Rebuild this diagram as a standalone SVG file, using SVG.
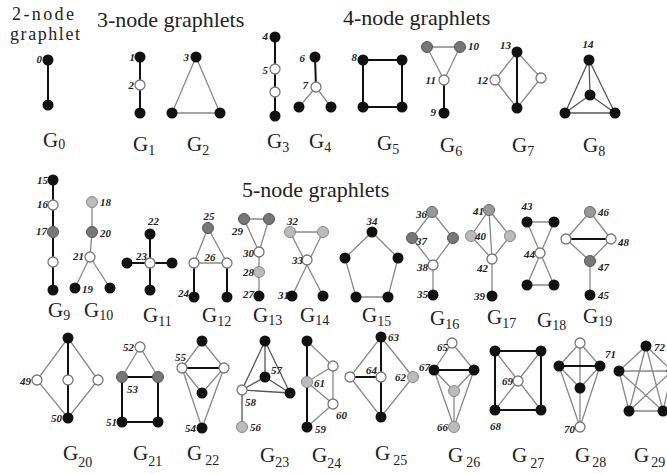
<svg xmlns="http://www.w3.org/2000/svg" width="667" height="474" viewBox="0 0 667 474">
<style>
.b{fill:#111}
.w{fill:#fff;stroke:#777;stroke-width:1.3}
.dg{fill:#777;stroke:#555;stroke-width:1}
.mg{fill:#999;stroke:#666;stroke-width:1}
.lg{fill:#bbb;stroke:#888;stroke-width:1}
.k{stroke:#111;stroke-width:2;fill:none}
.t{stroke:#888;stroke-width:1.3;fill:none}
.d{stroke:#555;stroke-width:1.3;fill:none}
.title{font-family:"Liberation Serif","Times New Roman",serif;font-size:22px;fill:#222}
.gl{font-family:"Liberation Serif","Times New Roman",serif;font-size:21px;fill:#222}
.sub{font-size:14px}
.n{font-family:"Liberation Serif","Times New Roman",serif;font-size:11px;font-style:italic;font-weight:bold;fill:#222}
.e{text-anchor:end}
.m{text-anchor:middle}
</style>
<rect width="667" height="474" fill="#fff"/>
<g id="titles">
<text class="title" x="12" y="20" style="font-size:18px" textLength="62">2-node</text>
<text class="title" x="10" y="40" style="font-size:18px" textLength="70">graphlet</text>
<text class="title" x="97" y="27">3-node graphlets</text>
<text class="title" x="343" y="25">4-node graphlets</text>
<text class="title" x="242" y="197">5-node graphlets</text>
</g>
<g id="connectors">
<line class="k" x1="48" y1="60" x2="48" y2="105"/>
<line class="k" x1="140" y1="57" x2="140" y2="113"/>
<path class="t" d="M196,57 L172,113 L220,113 Z"/>
<line class="k" x1="275" y1="37" x2="275" y2="116"/>
<line class="k" x1="315" y1="57" x2="316" y2="87"/>
<path class="t" d="M299,107 L316,87 L331,107"/>
<rect class="k" x="363" y="60" width="39" height="47"/>
<path class="t" d="M427,47 L460,47 L444,80 Z"/>
<line class="k" x1="444" y1="80" x2="444" y2="113"/>
<line class="k" x1="517" y1="52" x2="517" y2="108"/>
<path class="t" d="M517,52 L495,80 L517,108 L541,78 Z"/>
<path class="d" d="M589,60 L565,113 L615,113 Z M589,60 L590,95 M565,113 L590,95 L615,113"/>
<line class="k" x1="53" y1="180" x2="53" y2="290"/>
<path class="t" d="M92,202 L92,232 L90,257 M75,288 L90,257 L110,288"/>
<path class="k" d="M150,234 L150,290 M127,263 L172,263"/>
<path class="t" d="M208,228 L194,263 L227,263 Z"/>
<path class="k" d="M194,263 L194,297 M227,263 L227,297"/>
<path class="t" d="M244,219 L269,219 L259,252 Z M259,252 L259,272 L259,296"/>
<path class="t" d="M290,232 L323,232 M290,232 L323,296 M323,232 L292,296"/>
<path class="t" d="M372,232 L398,258 L388,297 L356,297 L345,258 Z"/>
<path class="t" d="M432,212 L453,238 L433,265 L412,238 Z M433,265 L433,295"/>
<path class="t" d="M489,210 L510,236 L492,259 L471,236 Z M489,210 L492,259 L492,296"/>
<path class="t" d="M527,222 L554,222 M527,285 L554,285 M527,222 L554,285 M554,222 L527,285"/>
<path class="t" d="M590,212 L611,239 L590,261 L566,239 Z M590,261 L590,295"/>
<line class="k" x1="566" y1="239" x2="611" y2="239"/>
<path class="t" d="M68,338 L98,380 L68,418 L37,380 Z"/>
<line class="k" x1="68" y1="338" x2="68" y2="418"/>
<path class="t" d="M122,377 L140,347 L158,377"/>
<rect class="k" x="122" y="377" width="36" height="45"/>
<path class="t" d="M202,341 L224,368 L202,393 L182,368 Z M182,368 L202,428 L224,368"/>
<line class="k" x1="182" y1="368" x2="224" y2="368"/>
<path class="d" d="M265,341 L290,393 L242,390 Z M265,341 L265,377 M242,390 L265,377 L290,393 M242,390 L242,427"/>
<line class="k" x1="307" y1="341" x2="307" y2="427"/>
<path class="t" d="M307,341 L333,366 L333,404 L307,427 M333,366 L307,382 L333,404"/>
<path class="t" d="M381,337 L413,377 L381,417 L350,377 Z"/>
<path class="k" d="M381,337 L381,417 M350,377 L381,377"/>
<path class="t" d="M434,370 L452,343 L474,370 M434,370 L454,391 L474,370 M454,391 L454,427 M434,370 L454,427 L474,370"/>
<line class="k" x1="434" y1="370" x2="474" y2="370"/>
<rect class="k" x="495" y="351" width="46" height="59"/>
<path class="t" d="M495,351 L541,410 M541,351 L495,410"/>
<path class="t" d="M559,366 L580,343 L600,366 M580,343 L580,388 L580,427 M559,366 L580,388 L600,366 M559,366 L580,427 L600,366"/>
<line class="k" x1="559" y1="366" x2="600" y2="366"/>
<path class="t" d="M646,346 L672,371 L663,411 L629,411 L619,371 Z M646,346 L629,411 M646,346 L663,411 M619,371 L672,371 M619,371 L663,411 M672,371 L629,411"/>
</g>
<g id="n0"><circle class="b" cx="48" cy="60" r="5.5"/><text class="n e" x="42" y="63">0</text></g>
<g id="n0b"><circle class="b" cx="48" cy="105" r="5.5"/></g>
<g id="n1"><circle class="b" cx="140" cy="57" r="5.5"/><text class="n e" x="135" y="61">1</text></g>
<g id="n2"><circle class="w" cx="140" cy="85" r="5"/><text class="n e" x="134" y="89">2</text></g>
<g id="n1c"><circle class="b" cx="140" cy="113" r="5.5"/></g>
<g id="n3"><circle class="b" cx="196" cy="57" r="5.5"/><text class="n e" x="189" y="61">3</text></g>
<g id="n3b"><circle class="b" cx="172" cy="113" r="5.5"/></g>
<g id="n3c"><circle class="b" cx="220" cy="113" r="5.5"/></g>
<g id="n4"><circle class="b" cx="275" cy="37" r="5.5"/><text class="n e" x="268" y="40">4</text></g>
<g id="n5"><circle class="w" cx="275" cy="69" r="5"/><text class="n e" x="268" y="74">5</text></g>
<g id="n5b"><circle class="w" cx="275" cy="92" r="5"/></g>
<g id="n4b"><circle class="b" cx="275" cy="116" r="5.5"/></g>
<g id="n6"><circle class="b" cx="315" cy="57" r="5.5"/><text class="n e" x="305" y="62">6</text></g>
<g id="n7"><circle class="w" cx="316" cy="87" r="5"/><text class="n e" x="308" y="89">7</text></g>
<g id="n6b"><circle class="b" cx="299" cy="107" r="5.5"/></g>
<g id="n6c"><circle class="b" cx="331" cy="107" r="5.5"/></g>
<g id="n8"><circle class="b" cx="363" cy="60" r="5.5"/><text class="n e" x="357" y="61">8</text></g>
<g id="n8b"><circle class="b" cx="402" cy="60" r="5.5"/></g>
<g id="n8c"><circle class="b" cx="402" cy="107" r="5.5"/></g>
<g id="n8d"><circle class="b" cx="363" cy="107" r="5.5"/></g>
<g id="n10"><circle class="dg" cx="460" cy="47" r="5.5"/><text class="n" x="468" y="50">10</text></g>
<g id="n10b"><circle class="dg" cx="427" cy="47" r="5.5"/></g>
<g id="n11"><circle class="w" cx="444" cy="80" r="5"/><text class="n e" x="436" y="84">11</text></g>
<g id="n9"><circle class="b" cx="444" cy="113" r="5.5"/><text class="n e" x="436" y="116">9</text></g>
<g id="n13"><circle class="b" cx="517" cy="52" r="5.5"/><text class="n e" x="511" y="49">13</text></g>
<g id="n12"><circle class="w" cx="495" cy="80" r="5"/><text class="n e" x="488" y="84">12</text></g>
<g id="n12b"><circle class="w" cx="541" cy="78" r="5"/></g>
<g id="n13b"><circle class="b" cx="517" cy="108" r="5.5"/></g>
<g id="n14"><circle class="b" cx="589" cy="60" r="5.5"/><text class="n m" x="588" y="48">14</text></g>
<g id="n14b"><circle class="b" cx="590" cy="95" r="5.5"/></g>
<g id="n14c"><circle class="b" cx="565" cy="113" r="5.5"/></g>
<g id="n14d"><circle class="b" cx="615" cy="113" r="5.5"/></g>
<g id="n15"><circle class="b" cx="53" cy="180" r="5.5"/><text class="n e" x="48" y="184">15</text></g>
<g id="n16"><circle class="w" cx="53" cy="205" r="5"/><text class="n e" x="48" y="208">16</text></g>
<g id="n17"><circle class="dg" cx="53" cy="232" r="5.5"/><text class="n e" x="47" y="235">17</text></g>
<g id="n16b"><circle class="w" cx="53" cy="262" r="5"/></g>
<g id="n15b"><circle class="b" cx="53" cy="290" r="5.5"/></g>
<g id="n18"><circle class="lg" cx="92" cy="202" r="5.5"/><text class="n" x="100" y="206">18</text></g>
<g id="n20"><circle class="dg" cx="92" cy="232" r="5.5"/><text class="n" x="100" y="237">20</text></g>
<g id="n21"><circle class="w" cx="90" cy="257" r="5"/><text class="n e" x="84" y="260">21</text></g>
<g id="n19"><circle class="b" cx="75" cy="288" r="5.5"/><text class="n" x="82" y="293">19</text></g>
<g id="n19b"><circle class="b" cx="110" cy="288" r="5.5"/></g>
<g id="n22"><circle class="b" cx="150" cy="234" r="5.5"/><text class="n" x="148" y="225">22</text></g>
<g id="n23"><circle class="w" cx="150" cy="263" r="5"/><text class="n" x="136" y="260">23</text></g>
<g id="n22b"><circle class="b" cx="150" cy="290" r="5.5"/></g>
<g id="n22c"><circle class="b" cx="127" cy="263" r="5.5"/></g>
<g id="n22d"><circle class="b" cx="172" cy="263" r="5.5"/></g>
<g id="n25"><circle class="dg" cx="208" cy="228" r="5.5"/><text class="n m" x="209" y="220">25</text></g>
<g id="n26"><circle class="w" cx="194" cy="263" r="5"/><text class="n m" x="210" y="261">26</text></g>
<g id="n26b"><circle class="w" cx="227" cy="263" r="5"/></g>
<g id="n24"><circle class="b" cx="194" cy="297" r="5.5"/><text class="n e" x="189" y="297">24</text></g>
<g id="n24b"><circle class="b" cx="227" cy="297" r="5.5"/></g>
<g id="n29"><circle class="dg" cx="244" cy="219" r="5.5"/><text class="n e" x="243" y="235">29</text></g>
<g id="n29b"><circle class="dg" cx="269" cy="219" r="5.5"/></g>
<g id="n30"><circle class="w" cx="259" cy="252" r="5"/><text class="n e" x="254" y="257">30</text></g>
<g id="n28"><circle class="lg" cx="259" cy="272" r="5.5"/><text class="n e" x="254" y="276">28</text></g>
<g id="n27"><circle class="b" cx="259" cy="296" r="5.5"/><text class="n e" x="254" y="298">27</text></g>
<g id="n32"><circle class="lg" cx="290" cy="232" r="5.5"/><text class="n" x="287" y="225">32</text></g>
<g id="n32b"><circle class="lg" cx="323" cy="232" r="5.5"/></g>
<g id="n33"><circle class="w" cx="307" cy="260" r="5"/><text class="n e" x="303" y="264">33</text></g>
<g id="n31"><circle class="b" cx="292" cy="296" r="5.5"/><text class="n e" x="289" y="299">31</text></g>
<g id="n31b"><circle class="b" cx="323" cy="296" r="5.5"/></g>
<g id="n34"><circle class="b" cx="372" cy="232" r="5.5"/><text class="n m" x="372" y="225">34</text></g>
<g id="n34b"><circle class="b" cx="398" cy="258" r="5.5"/></g>
<g id="n34c"><circle class="b" cx="388" cy="297" r="5.5"/></g>
<g id="n34d"><circle class="b" cx="356" cy="297" r="5.5"/></g>
<g id="n34e"><circle class="b" cx="345" cy="258" r="5.5"/></g>
<g id="n36"><circle class="mg" cx="432" cy="212" r="5.5"/><text class="n e" x="427" y="218">36</text></g>
<g id="n37"><circle class="dg" cx="412" cy="238" r="5.5"/><text class="n" x="416" y="245">37</text></g>
<g id="n37b"><circle class="dg" cx="453" cy="238" r="5.5"/></g>
<g id="n38"><circle class="w" cx="433" cy="265" r="5"/><text class="n e" x="428" y="271">38</text></g>
<g id="n35"><circle class="b" cx="433" cy="295" r="5.5"/><text class="n e" x="428" y="298">35</text></g>
<g id="n41"><circle class="mg" cx="489" cy="210" r="5.5"/><text class="n e" x="484" y="215">41</text></g>
<g id="n40"><circle class="lg" cx="471" cy="236" r="5.5"/><text class="n" x="475" y="240">40</text></g>
<g id="n40b"><circle class="lg" cx="510" cy="236" r="5.5"/></g>
<g id="n42"><circle class="w" cx="492" cy="259" r="5"/><text class="n e" x="488" y="272">42</text></g>
<g id="n39"><circle class="b" cx="492" cy="296" r="5.5"/><text class="n e" x="485" y="300">39</text></g>
<g id="n43"><circle class="b" cx="527" cy="222" r="5.5"/><text class="n m" x="527" y="210">43</text></g>
<g id="n43b"><circle class="b" cx="554" cy="222" r="5.5"/></g>
<g id="n44"><circle class="w" cx="540" cy="253" r="5"/><text class="n e" x="535" y="258">44</text></g>
<g id="n43c"><circle class="b" cx="527" cy="285" r="5.5"/></g>
<g id="n43d"><circle class="b" cx="554" cy="285" r="5.5"/></g>
<g id="n46"><circle class="mg" cx="590" cy="212" r="5.5"/><text class="n" x="598" y="216">46</text></g>
<g id="n48"><circle class="w" cx="611" cy="239" r="5"/><text class="n" x="618" y="246">48</text></g>
<g id="n48b"><circle class="w" cx="566" cy="239" r="5"/></g>
<g id="n47"><circle class="dg" cx="590" cy="261" r="5.5"/><text class="n" x="598" y="271">47</text></g>
<g id="n45"><circle class="b" cx="590" cy="295" r="5.5"/><text class="n" x="598" y="299">45</text></g>
<g id="n50t"><circle class="b" cx="68" cy="338" r="5.5"/></g>
<g id="n49"><circle class="w" cx="37" cy="380" r="5"/><text class="n e" x="31" y="385">49</text></g>
<g id="n49b"><circle class="w" cx="68" cy="380" r="5"/></g>
<g id="n49c"><circle class="w" cx="98" cy="380" r="5"/></g>
<g id="n50"><circle class="b" cx="68" cy="418" r="5.5"/><text class="n e" x="62" y="422">50</text></g>
<g id="n52"><circle class="w" cx="140" cy="347" r="5"/><text class="n e" x="134" y="351">52</text></g>
<g id="n53"><circle class="dg" cx="122" cy="377" r="5.5"/><text class="n" x="127" y="393">53</text></g>
<g id="n53b"><circle class="dg" cx="158" cy="377" r="5.5"/></g>
<g id="n51"><circle class="b" cx="122" cy="422" r="5.5"/><text class="n e" x="117" y="426">51</text></g>
<g id="n51b"><circle class="b" cx="158" cy="422" r="5.5"/></g>
<g id="n55t"><circle class="b" cx="202" cy="341" r="5.5"/></g>
<g id="n55"><circle class="w" cx="182" cy="368" r="5"/><text class="n" x="175" y="361">55</text></g>
<g id="n55b"><circle class="w" cx="224" cy="368" r="5"/></g>
<g id="n55m"><circle class="b" cx="202" cy="393" r="5.5"/></g>
<g id="n54"><circle class="b" cx="202" cy="428" r="5.5"/><text class="n e" x="196" y="432">54</text></g>
<g id="n57t"><circle class="b" cx="265" cy="341" r="5.5"/></g>
<g id="n57"><circle class="b" cx="265" cy="377" r="5.5"/><text class="n" x="271" y="374">57</text></g>
<g id="n58"><circle class="w" cx="242" cy="390" r="5"/><text class="n" x="245" y="406">58</text></g>
<g id="n57r"><circle class="b" cx="290" cy="393" r="5.5"/></g>
<g id="n56"><circle class="lg" cx="242" cy="427" r="5.5"/><text class="n" x="250" y="431">56</text></g>
<g id="n59t"><circle class="b" cx="307" cy="341" r="5.5"/></g>
<g id="n60t"><circle class="w" cx="333" cy="366" r="5"/></g>
<g id="n61"><circle class="lg" cx="307" cy="382" r="5.5"/><text class="n" x="314" y="387">61</text></g>
<g id="n60"><circle class="w" cx="333" cy="404" r="5"/><text class="n" x="336" y="419">60</text></g>
<g id="n59"><circle class="b" cx="307" cy="427" r="5.5"/><text class="n" x="315" y="433">59</text></g>
<g id="n63"><circle class="b" cx="381" cy="337" r="5.5"/><text class="n" x="388" y="341">63</text></g>
<g id="n64l"><circle class="w" cx="350" cy="377" r="5"/></g>
<g id="n64"><circle class="w" cx="381" cy="377" r="5"/><text class="n" x="366" y="374">64</text></g>
<g id="n62"><circle class="lg" cx="413" cy="377" r="5.5"/><text class="n e" x="406" y="381">62</text></g>
<g id="n63b"><circle class="b" cx="381" cy="417" r="5.5"/></g>
<g id="n65"><circle class="w" cx="452" cy="343" r="5"/><text class="n e" x="448" y="351">65</text></g>
<g id="n67"><circle class="b" cx="434" cy="370" r="5.5"/><text class="n e" x="430" y="371">67</text></g>
<g id="n67b"><circle class="b" cx="474" cy="370" r="5.5"/></g>
<g id="n66m"><circle class="lg" cx="454" cy="391" r="5.5"/></g>
<g id="n66"><circle class="lg" cx="454" cy="427" r="5.5"/><text class="n e" x="448" y="431">66</text></g>
<g id="n68a"><circle class="b" cx="495" cy="351" r="5.5"/></g>
<g id="n68b"><circle class="b" cx="541" cy="351" r="5.5"/></g>
<g id="n69"><circle class="w" cx="518" cy="381" r="5"/><text class="n e" x="513" y="385">69</text></g>
<g id="n68"><circle class="b" cx="495" cy="410" r="5.5"/><text class="n" x="490" y="430">68</text></g>
<g id="n68c"><circle class="b" cx="541" cy="410" r="5.5"/></g>
<g id="n70t"><circle class="w" cx="580" cy="343" r="5"/></g>
<g id="n71l"><circle class="b" cx="559" cy="366" r="5.5"/></g>
<g id="n71"><circle class="b" cx="600" cy="366" r="5.5"/><text class="n" x="605" y="358">71</text></g>
<g id="n71m"><circle class="b" cx="580" cy="388" r="5.5"/></g>
<g id="n70"><circle class="w" cx="580" cy="427" r="5"/><text class="n e" x="575" y="433">70</text></g>
<g id="n72"><circle class="b" cx="646" cy="346" r="5.5"/><text class="n" x="654" y="351">72</text></g>
<g id="n72b"><circle class="b" cx="619" cy="371" r="5.5"/></g>
<g id="n72c"><circle class="b" cx="672" cy="371" r="5.5"/></g>
<g id="n72d"><circle class="b" cx="629" cy="411" r="5.5"/></g>
<g id="n72e"><circle class="b" cx="663" cy="411" r="5.5"/></g>
<g id="labels">
<text class="gl" x="43" y="147">G<tspan class="sub" dy="2">0</tspan></text>
<text class="gl" x="133" y="151">G<tspan class="sub" dy="4">1</tspan></text>
<text class="gl" x="187" y="151">G<tspan class="sub" dy="4">2</tspan></text>
<text class="gl" x="267" y="148">G<tspan class="sub" dy="4">3</tspan></text>
<text class="gl" x="309" y="148">G<tspan class="sub" dy="4">4</tspan></text>
<text class="gl" x="377" y="150">G<tspan class="sub" dy="4">5</tspan></text>
<text class="gl" x="440" y="152">G<tspan class="sub" dy="4">6</tspan></text>
<text class="gl" x="512" y="152">G<tspan class="sub" dy="4">7</tspan></text>
<text class="gl" x="583" y="152">G<tspan class="sub" dy="4">8</tspan></text>
<text class="gl" x="48" y="317">G<tspan class="sub" dy="3">9</tspan></text>
<text class="gl" x="84" y="317">G<tspan class="sub" dy="3">10</tspan></text>
<text class="gl" x="143" y="322">G<tspan class="sub" dy="4">11</tspan></text>
<text class="gl" x="202" y="322">G<tspan class="sub" dy="4">12</tspan></text>
<text class="gl" x="253" y="322">G<tspan class="sub" dy="3">13</tspan></text>
<text class="gl" x="300" y="322">G<tspan class="sub" dy="3">14</tspan></text>
<text class="gl" x="362" y="322">G<tspan class="sub" dy="4">15</tspan></text>
<text class="gl" x="430" y="325">G<tspan class="sub" dy="4">16</tspan></text>
<text class="gl" x="487" y="324">G<tspan class="sub" dy="4">17</tspan></text>
<text class="gl" x="537" y="327">G<tspan class="sub" dy="3">18</tspan></text>
<text class="gl" x="583" y="323">G<tspan class="sub" dy="3">19</tspan></text>
<text class="gl" x="63" y="460">G<tspan class="sub" dy="7">20</tspan></text>
<text class="gl" x="133" y="460">G<tspan class="sub" dy="6">21</tspan></text>
<text class="gl" x="187" y="460">G<tspan class="sub" dx="3" dy="5">22</tspan></text>
<text class="gl" x="260" y="462">G<tspan class="sub" dy="5">23</tspan></text>
<text class="gl" x="312" y="462">G<tspan class="sub" dy="6">24</tspan></text>
<text class="gl" x="375" y="460">G<tspan class="sub" dx="3" dy="5">25</tspan></text>
<text class="gl" x="448" y="462">G<tspan class="sub" dx="3" dy="5">26</tspan></text>
<text class="gl" x="512" y="462">G<tspan class="sub" dx="3" dy="6">27</tspan></text>
<text class="gl" x="575" y="462">G<tspan class="sub" dx="2" dy="5">28</tspan></text>
<text class="gl" x="634" y="462">G<tspan class="sub" dx="2" dy="5">29</tspan></text>
</g>
</svg>
